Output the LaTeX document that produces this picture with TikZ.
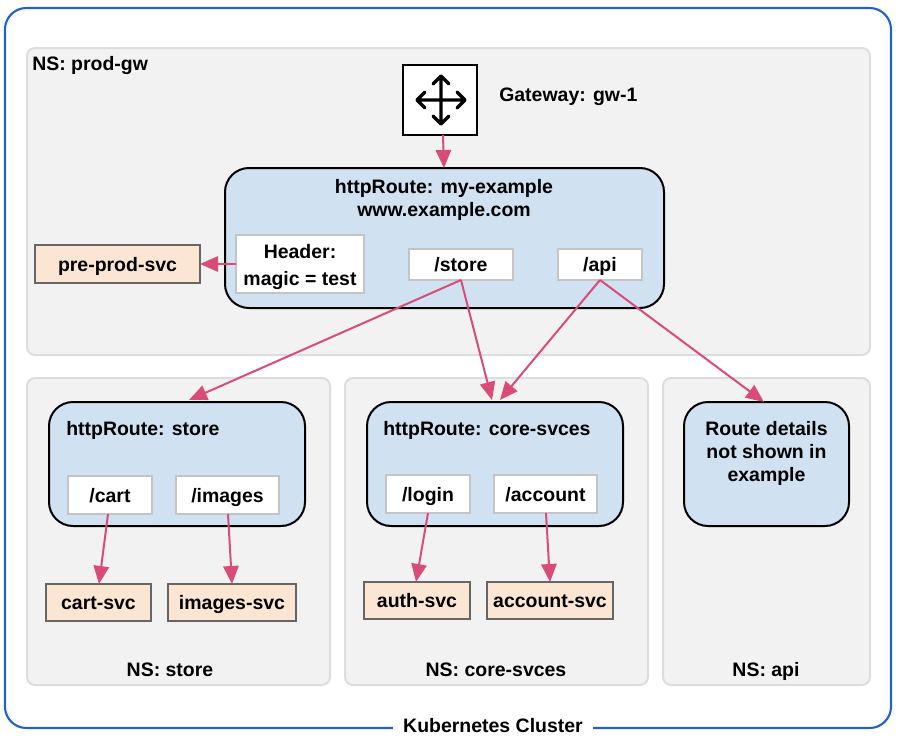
\documentclass[tikz,border=0pt]{standalone}
\usepackage{fontspec}
\setmainfont{Liberation Sans}
\usetikzlibrary{arrows.meta,calc}
\definecolor{arrowc}{HTML}{D94B78}
\definecolor{nsfill}{HTML}{F2F2F2}
\definecolor{nsline}{HTML}{DDDDDD}
\definecolor{routefill}{HTML}{D0E2F1}
\definecolor{svcfill}{HTML}{FBE6D3}
\definecolor{svcline}{HTML}{666666}
\definecolor{whiteline}{HTML}{C4C4C4}
\definecolor{outerline}{HTML}{1F63CC}
\newcommand\pxbox[7]{%
  \pgfmathsetmacro\bxcx{(#3+#5)/2}%
  \pgfmathsetmacro\bxcy{(#4+#6)/2}%
  \pgfmathsetmacro\bxw{(#5-#3)*0.75}%
  \pgfmathsetmacro\bxh{(#6-#4)*0.75}%
  \node[#1,minimum width=\bxw pt,minimum height=\bxh pt] (#2) at (\bxcx,\bxcy) {#7};}
\tikzset{
  x=0.75pt,y=-0.75pt,
  txt/.style={font=\fontsize{14.6}{17}\selectfont\bfseries,text=black,inner sep=0pt,text height=12.5pt,text depth=1.3pt},
  basebox/.style={txt,inner sep=0pt,outer sep=0pt},
  outerbox/.style={basebox,draw=outerline,line width=1.6pt,rounded corners=16pt},
  nsbox/.style={basebox,draw=nsline,fill=nsfill,line width=1.5pt,rounded corners=6pt},
  gwbox/.style={basebox,draw=black,fill=white,line width=1.5pt},
  routebox/.style={basebox,draw=black,fill=routefill,line width=1.5pt,rounded corners=18pt},
  whitebox/.style={basebox,draw=whiteline,fill=white,line width=1.5pt},
  svcbox/.style={basebox,draw=svcline,fill=svcfill,line width=1.5pt},
  link/.style={draw=arrowc,line width=1.5pt,-{Triangle[length=13.5pt,width=11.5pt,fill=arrowc]}},
  iconline/.style={draw=black,line width=2.5pt,line cap=round,line join=round},
}
\begin{document}
\begin{tikzpicture}
\useasboundingbox (0,0) rectangle (900,746);
\pxbox{outerbox}{cluster}{5}{8}{891}{728}{}
\node[txt,fill=white,minimum width=150pt] (clusterlabel) at (493,725.5) {Kubernetes Cluster};
\pxbox{nsbox}{nsgw}{27}{48}{870}{355}{}
\pxbox{nsbox}{nsstore}{27}{378}{330}{685}{}
\pxbox{nsbox}{nscore}{345}{378}{648}{685}{}
\pxbox{nsbox}{nsapi}{663}{378}{870}{685}{}
\node[txt,anchor=west] (nsgwl) at (32,63) {NS: prod-gw};
\node[txt] (nsstorel) at (170,669.5) {NS: store};
\node[txt] (nscorel) at (496,669.5) {NS: core-svces};
\node[txt] (nsapil) at (766,669.5) {NS: api};
\pxbox{gwbox}{gw}{403}{65}{477}{135}{}
\draw[iconline] (417,100) -- (465,100) (441,76) -- (441,124)
  (425,92) -- (417,100) -- (425,108)
  (457,92) -- (465,100) -- (457,108)
  (433,84) -- (441,76) -- (449,84)
  (433,116) -- (441,124) -- (449,116);
\node[txt,anchor=west] (gwl) at (499,94.5) {Gateway: gw-1};
\pxbox{routebox}{rmain}{225}{168}{664}{308}{}
\node[txt] (rmainl1) at (444,186.5) {httpRoute: my-example};
\node[txt] (rmainl2) at (444,209.5) {www.example.com};
\pxbox{whitebox}{hdr}{236}{235}{364}{293}{}
\node[txt] (hdrl1) at (300,251.5) {Header:};
\node[txt] (hdrl2) at (300,278.5) {magic = test};
\pxbox{whitebox}{pstore}{409}{249}{513}{280}{/store}
\pxbox{whitebox}{papi}{558}{249}{642}{280}{/api}
\pxbox{svcbox}{pre}{35}{245}{200}{283}{pre-prod-svc}
\pxbox{routebox}{rstore}{49}{402}{305}{526}{}
\node[txt,anchor=west] (rstorel) at (66,428.5) {httpRoute: store};
\pxbox{routebox}{rcore}{367}{402}{623}{526}{}
\node[txt,anchor=west] (rcorel) at (383,428.5) {httpRoute: core-svces};
\pxbox{routebox}{rapi}{684}{402}{849}{526}{}
\node[txt] (rapil1) at (766.5,428.5) {Route details};
\node[txt] (rapil2) at (766.5,451.5) {not shown in};
\node[txt] (rapil3) at (766.5,474.5) {example};
\pxbox{whitebox}{pcart}{68}{476}{152}{514}{/cart}
\pxbox{whitebox}{pimages}{176}{476}{279}{514}{/images}
\pxbox{whitebox}{plogin}{386}{475}{470}{513}{/login}
\pxbox{whitebox}{paccount}{494}{475}{597}{513}{/account}
\pxbox{svcbox}{scart}{46}{584}{151}{621}{cart-svc}
\pxbox{svcbox}{simages}{168}{584}{296}{621}{images-svc}
\pxbox{svcbox}{sauth}{364}{582}{470}{619}{auth-svc}
\pxbox{svcbox}{saccount}{487}{582}{613}{619}{account-svc}
% connectors
\draw[link] ($(gw.south)+(3,0)$) -- ($(rmain.north)+(-0.5,0)$);
\draw[link] (hdr.west) -- (pre.east);
\draw[link] (pstore.south) -- ($(rstore.north)+(12,-2)$);
\draw[link] (pstore.south) -- ($(rcore.north)+(-3,-2)$);
\draw[link] (papi.south) -- ($(rcore.north)+(5,-2)$);
\draw[link] (papi.south) -- ($(rapi.north)+(-2.5,0)$);
\draw[link] ($(pcart.south)+(-2,0)$) -- ($(scart.north)+(0.5,0)$);
\draw[link] ($(pimages.south)+(0.5,0)$) -- (simages.north);
\draw[link] (plogin.south) -- ($(sauth.north)+(-1,0)$);
\draw[link] ($(paccount.south)+(0.5,0)$) -- (saccount.north);
\end{tikzpicture}
\end{document}
